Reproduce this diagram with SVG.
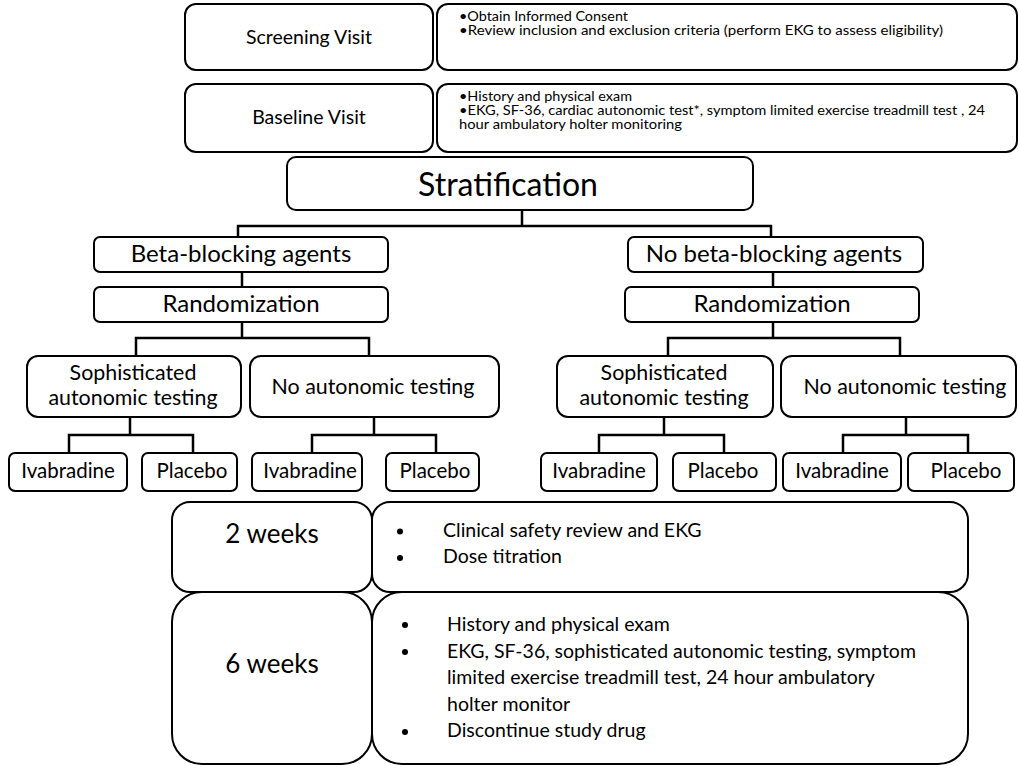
<svg xmlns="http://www.w3.org/2000/svg" width="1019" height="765" viewBox="0 0 1019 765">
<style>
.b{fill:#fff;stroke:#000;stroke-width:2}
.c{fill:none;stroke:#000;stroke-width:2.5}
text{font-family:Lato,"Open Sans",sans-serif;fill:#000}
.m{text-anchor:middle}
.d{font-size:13.6px}
.v{font-size:19.5px}
.h{font-size:24px}
.s{font-size:21.4px}
.l{font-size:20.5px}
.w{font-size:26px}
.t{font-size:19.5px}
</style>
<rect width="1019" height="765" fill="#fff"/>
<g id="connectors">
<path class="c" d="M522 210V226M238 236V226H771V236"/>
<path class="c" d="M242 272V287M773 272V287"/>
<path class="c" d="M242 322V338M136 356V338H369V356"/>
<path class="c" d="M773 322V338M668 356V338H900V356"/>
<path class="c" d="M130 417V435M69 453V435H193V453M374 417V435M312 453V435H436V453"/>
<path class="c" d="M664 417V435M599 453V435H724V453M906 417V435M843 453V435H968V453"/>
</g>
<g id="screening">
<rect class="b" x="185" y="4" width="248" height="66" rx="11"/>
<text class="m v" x="309" y="44">Screening Visit</text>
</g>
<g id="screening-details">
<rect class="b" x="437" y="4" width="580" height="66" rx="11"/>
<text class="d" x="459" y="21" textLength="169" lengthAdjust="spacingAndGlyphs">•Obtain Informed Consent</text>
<text class="d" x="459" y="35" textLength="484" lengthAdjust="spacingAndGlyphs">•Review inclusion and exclusion criteria (perform EKG to assess eligibility)</text>
</g>
<g id="baseline">
<rect class="b" x="185" y="84" width="248" height="68" rx="11"/>
<text class="m v" x="309" y="124">Baseline Visit</text>
</g>
<g id="baseline-details">
<rect class="b" x="437" y="84" width="580" height="68" rx="11"/>
<text class="d" x="459" y="101" textLength="173" lengthAdjust="spacingAndGlyphs">•History and physical exam</text>
<text class="d" x="459" y="115" textLength="526" lengthAdjust="spacingAndGlyphs">•EKG, SF-36, cardiac autonomic test*, symptom limited exercise treadmill test , 24</text>
<text class="d" x="459" y="129" textLength="223" lengthAdjust="spacingAndGlyphs">hour ambulatory holter monitoring</text>
</g>
<g id="stratification">
<rect class="b" x="287" y="157" width="466" height="53" rx="9"/>
<text class="m" x="508" y="196" font-size="32">Stratification</text>
</g>
<g id="beta">
<rect class="b" x="94" y="237" width="294" height="35" rx="6"/>
<text class="m h" x="241" y="262">Beta-blocking agents</text>
</g>
<g id="nobeta">
<rect class="b" x="628" y="237" width="295" height="35" rx="6"/>
<text class="m h" x="774" y="262">No beta-blocking agents</text>
</g>
<g id="rand-left">
<rect class="b" x="94" y="287" width="294" height="35" rx="6"/>
<text class="m h" x="241" y="312">Randomization</text>
</g>
<g id="rand-right">
<rect class="b" x="625" y="287" width="294" height="35" rx="6"/>
<text class="m h" x="772" y="312">Randomization</text>
</g>
<g id="soph-left">
<rect class="b" x="27" y="356" width="214" height="61" rx="11"/>
<text class="m s" x="133" y="380">Sophisticated</text>
<text class="m s" x="133" y="405">autonomic testing</text>
</g>
<g id="noauto-left">
<rect class="b" x="250" y="356" width="249" height="61" rx="11"/>
<text class="m s" x="373" y="394">No autonomic testing</text>
</g>
<g id="soph-right">
<rect class="b" x="557" y="356" width="216" height="61" rx="11"/>
<text class="m s" x="664" y="380">Sophisticated</text>
<text class="m s" x="664" y="405">autonomic testing</text>
</g>
<g id="noauto-right">
<rect class="b" x="781" y="356" width="235" height="61" rx="11"/>
<text class="m s" x="905" y="394">No autonomic testing</text>
</g>
<g id="iva1"><rect class="b" x="9" y="453" width="118" height="38" rx="6"/><text class="m l" x="68" y="478">Ivabradine</text></g>
<g id="pla1"><rect class="b" x="142" y="453" width="95" height="38" rx="6"/><text class="m l" x="192" y="478">Placebo</text></g>
<g id="iva2"><rect class="b" x="252" y="453" width="110" height="38" rx="6"/><text class="m l" x="310" y="478">Ivabradine</text></g>
<g id="pla2"><rect class="b" x="386" y="453" width="93" height="38" rx="6"/><text class="m l" x="435" y="478">Placebo</text></g>
<g id="iva3"><rect class="b" x="541" y="453" width="116" height="38" rx="6"/><text class="m l" x="599" y="478">Ivabradine</text></g>
<g id="pla3"><rect class="b" x="673" y="453" width="103" height="38" rx="6"/><text class="m l" x="723" y="478">Placebo</text></g>
<g id="iva4"><rect class="b" x="783" y="453" width="118" height="38" rx="6"/><text class="m l" x="842" y="478">Ivabradine</text></g>
<g id="pla4"><rect class="b" x="908" y="453" width="106" height="38" rx="6"/><text class="m l" x="966" y="478">Placebo</text></g>
<g id="week2">
<rect class="b" x="172" y="502" width="200" height="90" rx="18"/>
<text class="m w" x="272" y="543">2 weeks</text>
</g>
<g id="week2-details">
<rect class="b" x="372" y="502" width="596" height="90" rx="18"/>
<circle cx="400" cy="531.5" r="3"/><text class="t" x="443" y="537">Clinical safety review and EKG</text>
<circle cx="400" cy="558" r="3"/><text class="t" x="443" y="563">Dose titration</text>
</g>
<g id="week6">
<rect class="b" x="172" y="592" width="200" height="172" rx="30"/>
<text class="m w" x="272" y="673">6 weeks</text>
</g>
<g id="week6-details">
<rect class="b" x="372" y="592" width="596" height="172" rx="30"/>
<circle cx="405" cy="625" r="3"/><text class="t" x="447" y="631">History and physical exam</text>
<circle cx="405" cy="652" r="3"/><text class="t" x="447" y="658">EKG, SF-36, sophisticated autonomic testing, symptom</text>
<text class="t" x="447" y="684">limited exercise treadmill test, 24 hour ambulatory</text>
<text class="t" x="447" y="711">holter monitor</text>
<circle cx="405" cy="732" r="3"/><text class="t" x="447" y="737">Discontinue study drug</text>
</g>
</svg>
